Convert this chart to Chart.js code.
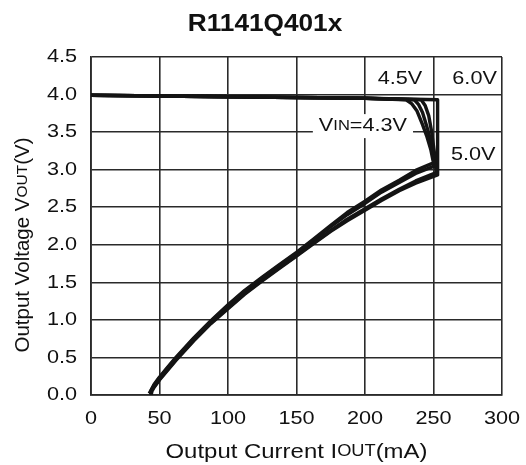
<!DOCTYPE html>
<html>
<head>
<meta charset="utf-8">
<script src="https://cdn.jsdelivr.net/npm/chart.js@4.4.0/dist/chart.umd.min.js"></script>
<style>
  html, body { margin: 0; padding: 0; background: #fff; }
  #wrap { width: 526px; height: 465px; }
</style>
</head>
<body>
<div id="wrap"><canvas id="chart" width="526" height="465"></canvas></div>
<script>
// axis ticks
const xTicks = [0, 50, 100, 150, 200, 250, 300]
const yTicks = [0.0, 0.5, 1.0, 1.5, 2.0, 2.5, 3.0, 3.5, 4.0, 4.5]

// VIN = 4.3V  (regulation, drop, then foldback back to ~43mA)
const iout43 = [0, 50, 100, 150, 200, 230, 234, 238, 242, 245, 248, 250,
    237, 225, 212, 200, 187, 175, 162, 150, 137, 125, 112, 100, 87.5, 75, 62, 56, 50, 46, 44, 42.5]
const vout43 = [3.99, 3.98, 3.97, 3.96, 3.95, 3.93, 3.88, 3.78, 3.60, 3.45, 3.27, 3.09,
    2.99, 2.86, 2.73, 2.58, 2.43, 2.26, 2.07, 1.90, 1.73, 1.57, 1.39, 1.20, 0.99, 0.76, 0.50, 0.37, 0.24, 0.14, 0.07, 0.02]
// VIN = 4.5V
const iout45 = [0, 50, 100, 150, 200, 236, 239, 242, 245, 247.5, 249.5, 251,
    237, 225, 212, 200, 187, 175, 162, 150, 137, 125, 112, 100, 87.5, 75, 62, 56, 50, 46, 44, 43]
const vout45 = [3.99, 3.98, 3.97, 3.96, 3.95, 3.93, 3.87, 3.76, 3.58, 3.42, 3.24, 3.05,
    2.95, 2.83, 2.70, 2.55, 2.40, 2.24, 2.06, 1.89, 1.72, 1.56, 1.38, 1.19, 0.98, 0.75, 0.49, 0.36, 0.23, 0.13, 0.065, 0.02]
// VIN = 5.0V
const iout50 = [0, 50, 100, 150, 200, 241, 244, 246.5, 248.5, 250.5, 252,
    237, 225, 212, 200, 187, 175, 162, 150, 137, 125, 112, 100, 87.5, 75, 62, 56, 50, 46, 44, 43.5]
const vout50 = [3.99, 3.98, 3.97, 3.96, 3.95, 3.93, 3.85, 3.72, 3.52, 3.25, 2.96,
    2.85, 2.74, 2.61, 2.48, 2.34, 2.19, 2.02, 1.86, 1.69, 1.53, 1.35, 1.16, 0.96, 0.73, 0.47, 0.34, 0.21, 0.11, 0.055, 0.01]
// VIN = 6.0V
const iout60 = [0, 50, 100, 150, 200, 253, 253,
    237, 225, 212, 200, 187, 175, 162, 150, 137, 125, 112, 100, 87.5, 75, 62, 56, 50, 46, 44.5, 44]
const vout60 = [3.99, 3.98, 3.97, 3.96, 3.95, 3.93, 2.93,
    2.82, 2.72, 2.59, 2.46, 2.32, 2.18, 2.01, 1.85, 1.68, 1.52, 1.34, 1.15, 0.95, 0.72, 0.46, 0.33, 0.20, 0.10, 0.05, 0.01]

function toPoints(xs, ys){
    return xs.map(function(x, i){ return {x: x, y: ys[i]} })
}

function makeSet(label, xs, ys){
    return {
        label: label,
        data: toPoints(xs, ys),
        showLine: true,
        borderColor: '#141414',
        borderWidth: 3.4,
        borderJoinStyle: 'round',
        pointRadius: 0,
        tension: 0,
        fill: false
    }
}

const FAM = '"Liberation Sans", Arial, sans-serif'
const STRETCH = 1.14   // the reference text is drawn a little wide

// text made of parts (for the small caps V IN, I OUT ...), stretched sideways
function drawParts(ctx, parts, x, y, align){
    let total = 0
    parts.forEach(function(p){ ctx.font = p.font; p.w = ctx.measureText(p.t).width; total += p.w })
    ctx.save()
    ctx.translate(x, y)
    ctx.scale(STRETCH, 1)
    let cx = align === 'center' ? -total / 2 : (align === 'right' ? -total : 0)
    ctx.textAlign = 'left'
    parts.forEach(function(p){ ctx.font = p.font; ctx.fillText(p.t, cx, 0); cx += p.w })
    ctx.restore()
    return total * STRETCH
}

const big = '19px ' + FAM
const small = '14.5px ' + FAM

const labelPlugin = {
    id: 'labels',
    afterDraw: function(chart){
        const ctx = chart.ctx
        const xs = chart.scales.x
        const ys = chart.scales.y
        const area = chart.chartArea
        ctx.save()
        ctx.fillStyle = '#111'
        ctx.textBaseline = 'middle'

        // tick labels
        xTicks.forEach(function(v){
            drawParts(ctx, [{t: String(v), font: big}], xs.getPixelForValue(v), area.bottom + 24, 'center')
        })
        yTicks.forEach(function(v){
            drawParts(ctx, [{t: v.toFixed(1), font: big}], area.left - 14, ys.getPixelForValue(v), 'right')
        })

        // series labels
        drawParts(ctx, [{t: '4.5V', font: big}], xs.getPixelForValue(225.5), ys.getPixelForValue(4.21), 'center')
        drawParts(ctx, [{t: '6.0V', font: big}], xs.getPixelForValue(280), ys.getPixelForValue(4.21), 'center')
        drawParts(ctx, [{t: '5.0V', font: big}], xs.getPixelForValue(279), ys.getPixelForValue(3.20), 'center')

        const px = xs.getPixelForValue(198.5)
        const py = ys.getPixelForValue(3.58)
        const parts = [{t: 'V', font: big}, {t: 'IN', font: small}, {t: '=4.3V', font: big}]
        let w = 0
        parts.forEach(function(p){ ctx.font = p.font; w += ctx.measureText(p.t).width })
        w = w * STRETCH
        ctx.fillStyle = '#fff'
        ctx.fillRect(px - w / 2 - 6, py - 12, w + 12, 24)
        ctx.fillStyle = '#111'
        drawParts(ctx, parts, px, py, 'center')

        // title
        drawParts(ctx, [{t: 'R1141Q401x', font: 'bold 23px ' + FAM}], 265, 25, 'center')

        // x axis title
        drawParts(ctx, [
            {t: 'Output Current I', font: '21px ' + FAM},
            {t: 'OUT', font: '16px ' + FAM},
            {t: '(mA)', font: '21px ' + FAM}
        ], (area.left + area.right) / 2, 452, 'center')

        // y axis title (rotated, not stretched along its length)
        ctx.translate(23, 245)
        ctx.rotate(-Math.PI / 2)
        ctx.scale(1 / STRETCH, 1)
        drawParts(ctx, [
            {t: 'Output Voltage V', font: '20.5px ' + FAM},
            {t: 'OUT', font: '15.5px ' + FAM},
            {t: '(V)', font: '20.5px ' + FAM}
        ], 0, 0, 'center')
        ctx.restore()
    }
}

const ctx = document.getElementById('chart').getContext('2d')
const myChart = new Chart(ctx, {
    type: 'scatter',
    data: {
        datasets: [
            makeSet('4.3V', iout43, vout43),
            makeSet('4.5V', iout45, vout45),
            makeSet('5.0V', iout50, vout50),
            makeSet('6.0V', iout60, vout60)
        ]
    },
    options: {
        responsive: false,
        animation: false,
        layout: { padding: { top: 57, right: 24, left: 0, bottom: 0 } },
        plugins: {
            legend: { display: false },
            title: { display: false },
            tooltip: { enabled: false }
        },
        scales: {
            x: {
                type: 'linear',
                min: 0,
                max: 300,
                afterFit: function(scale){ scale.height = 70 },
                afterBuildTicks: function(scale){ scale.ticks = xTicks.map(function(v){ return {value: v} }) },
                grid: { color: '#2a2a2a', lineWidth: 1.6, drawTicks: false },
                border: { color: '#2a2a2a', width: 1.8 },
                ticks: { display: false }
            },
            y: {
                type: 'linear',
                min: 0,
                max: 4.5,
                afterFit: function(scale){ scale.width = 91 },
                afterBuildTicks: function(scale){ scale.ticks = yTicks.map(function(v){ return {value: v} }) },
                grid: { color: '#2a2a2a', lineWidth: 1.6, drawTicks: false },
                border: { color: '#2a2a2a', width: 1.8 },
                ticks: { display: false }
            }
        }
    },
    plugins: [labelPlugin]
})
</script>
</body>
</html>
